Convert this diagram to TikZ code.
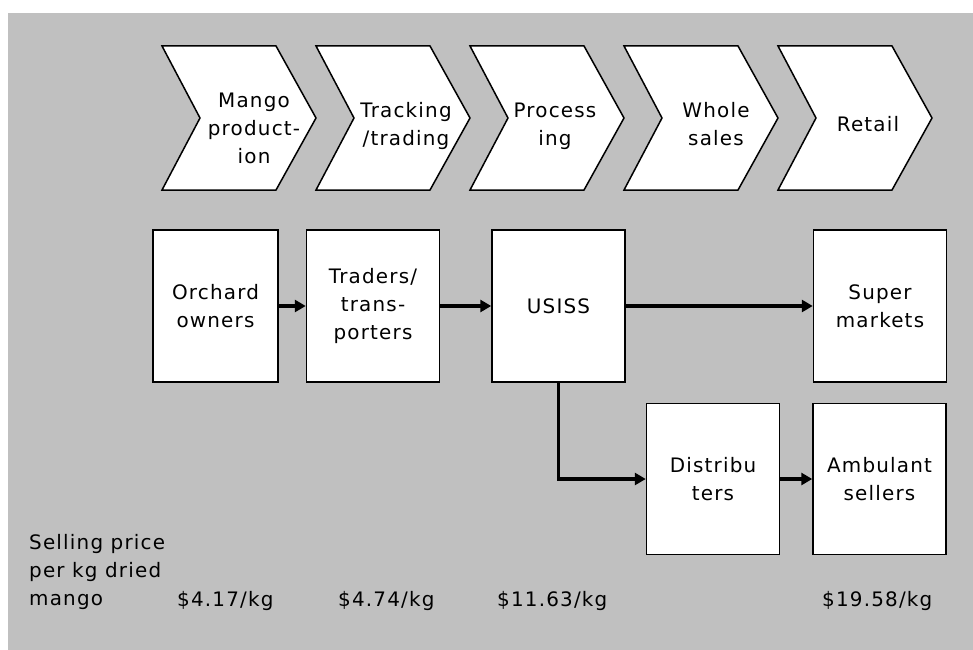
\documentclass[tikz,border=0pt]{standalone}
\usepackage{fontspec}
\setmainfont{DejaVu Sans}[LetterSpace=6]
\usetikzlibrary{arrows.meta,positioning}
\definecolor{hatter}{RGB}{192,192,192}
\tikzset{
  fazis/.style={draw,fill=white,line width=1.5bp,line join=miter},
  fcim/.style={align=center,inner sep=0pt},
  tag/.style={draw,fill=white,line width=1.5bp,minimum width=133bp,minimum height=152bp,align=center,inner sep=0pt},
  nyl/.style={line width=3.5bp,-{Triangle[length=11bp,width=12bp]}},
  ar/.style={anchor=base west,inner sep=0pt},
}

\begin{document}
\begin{tikzpicture}[x=1bp,y=-1bp,font=\fontsize{20}{28}\selectfont]
  \useasboundingbox (0,0) rectangle (973,650);
  \fill[hatter] (8,13) rectangle (973,650);
  % phases of the chain
  \foreach \nev/\x/\tx/\ty/\szoveg in {mango/162/254/128/{Mango\\product-\\ion},
      track/316/406/126/{Tracking\\/trading}, proc/470/555/126/{Process\\ing},
      whole/624/716/124/{Whole\\sales}, retail/778/868/124/{Retail}} {
    \draw[fazis] (\x,46) -- ++(114,0) -- ++(40,72) -- ++(-40,72) -- ++(-114,0) -- ++(38,-72) -- cycle;
    \node[fcim] (\nev) at (\tx,\ty) {\szoveg};
  }
  % actors
  \node[tag,minimum width=125bp] (orchard) at (215.5,306) {Orchard\\owners};
  \node[tag,right=27bp of orchard] (traders) {Traders/\\trans-\\porters};
  \node[tag,right=51bp of traders] (usiss) {USISS};
  \node[tag,right=187bp of usiss] (super) {Super\\markets};
  \node[tag,minimum height=151bp,below right=20bp and 20bp of usiss.south east] (distrib) {Distribu\\ters};
  \node[tag,minimum height=151bp,right=32bp of distrib] (ambulant) {Ambulant\\sellers};
  \draw[nyl] (orchard) -- (traders);
  \draw[nyl] (traders) -- (usiss);
  \draw[nyl] (usiss) -- (super);
  \draw[nyl] (usiss.south) |- (distrib);
  \draw[nyl] (distrib) -- (ambulant);
  % prices
  \node[anchor=west,align=left,inner sep=0pt] (ar) at (29,572) {Selling price\\per kg dried\\mango};
  \foreach \nev/\x/\szoveg in {p1/177/{\$4.17/kg}, p2/338/{\$4.74/kg}, p3/497/{\$11.63/kg}, p4/822/{\$19.58/kg}}
    \node[ar] (\nev) at (\x,606) {\szoveg};
\end{tikzpicture}
\end{document}
